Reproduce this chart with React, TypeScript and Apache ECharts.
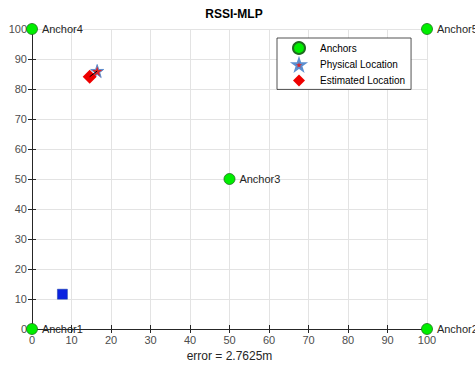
import React, { useEffect, useRef } from "react";
import * as echarts from "echarts";

const anchorNames = ["Anchor1", "Anchor2", "Anchor3", "Anchor4", "Anchor5"];
const anchorX = [0, 100, 50, 0, 100];
const anchorY = [0, 0, 50, 100, 100];
const physical = [16.5, 86];
const estimated = [14.6, 84.1];
const squarePoint = [7.7, 11.6];
const xTicks = [0, 100, 10];
const titleText = "RSSI-MLP";
const xName = "error = 2.7625m";

const STAR =
  "path://M50,0 L61.2,34.5 L97.6,34.5 L68.2,55.9 L79.4,90.5 L50,69.1 L20.6,90.5 L31.8,55.9 L2.4,34.5 L38.8,34.5 Z";

export default function App() {
  const ref = useRef<HTMLDivElement>(null);
  useEffect(() => {
    if (!ref.current) return;
    const chart = echarts.init(ref.current, undefined, { renderer: "svg" });
    const axisCommon = {
      type: "value" as const,
      min: xTicks[0],
      max: xTicks[1],
      interval: xTicks[2],
      axisLine: { show: true, lineStyle: { color: "#262626", width: 1 } },
      axisTick: { show: true, inside: true, length: 4, lineStyle: { color: "#262626" } },
      splitLine: { show: false },
    };
    const font = "Liberation Sans, Arial, sans-serif";
    chart.setOption({
      animation: false,
      backgroundColor: "#ffffff",
      title: {
        text: titleText,
        left: 229,
        textAlign: "center",
        top: 3,
        textStyle: { fontSize: 12, fontWeight: "bold", color: "#000", fontFamily: font },
      },
      grid: { left: 32, right: 48, top: 29, bottom: 37, containLabel: false },
      legend: {
        orient: "vertical",
        left: 277,
        top: 38,
        width: 139,
        padding: [3, 6, 3, 15],
        itemGap: 3,
        itemWidth: 12,
        itemHeight: 12,
        backgroundColor: "#fff",
        borderColor: "#262626",
        borderWidth: 0.8,
        textStyle: { fontSize: 10, color: "#000", fontFamily: font, padding: [0, 0, 0, 10] },
        data: ["Anchors", "Physical Location", "Estimated Location"],
      },
      xAxis: [
        {
          ...axisCommon,
          position: "bottom",
          name: xName,
          nameLocation: "middle",
          nameGap: 21,
          nameTextStyle: { fontSize: 12, color: "#262626", fontFamily: font },
          axisLabel: { fontSize: 11, color: "#4d4d4d", margin: 5, fontFamily: font },
          splitLine: { show: true, lineStyle: { color: "#e3e3e3", width: 1 } },
        },
        { ...axisCommon, position: "top", axisLabel: { show: false } },
      ],
      yAxis: [
        {
          ...axisCommon,
          position: "left",
          axisLabel: { fontSize: 11, color: "#4d4d4d", margin: 5, fontFamily: font },
          splitLine: { show: true, lineStyle: { color: "#e3e3e3", width: 1 } },
        },
        { ...axisCommon, position: "right", axisLabel: { show: false } },
      ],
      series: [
        {
          name: "Anchors",
          type: "scatter",
          clip: false,
          symbol: "circle",
          symbolSize: 11,
          itemStyle: { color: "#00ee00", borderColor: "#1f6b1f", borderWidth: 0.8, opacity: 1 },
          label: {
            show: true,
            position: "right",
            distance: 4,
            fontSize: 11,
            color: "#262626",
            fontFamily: font,
            formatter: (p: any) => anchorNames[p.dataIndex],
          },
          data: anchorX.map((x, i) => [x, anchorY[i]]),
          z: 5,
        },
        {
          name: "Estimated Location",
          type: "scatter",
          clip: false,
          symbol: "diamond",
          symbolSize: 14,
          itemStyle: { color: "#ee0000", opacity: 1 },
          data: [estimated],
          z: 3,
        },
        {
          name: "Physical Location",
          type: "scatter",
          clip: false,
          symbol: STAR,
          symbolSize: 13,
          itemStyle: { color: "#d9262b", borderColor: "#5b8fd0", borderWidth: 1, opacity: 1 },
          data: [physical],
          z: 2,
        },
        {
          name: "link",
          type: "line",
          symbol: "none",
          lineStyle: { color: "#000", width: 1 },
          data: [estimated, physical],
          z: 4,
        },
        {
          name: "square",
          type: "scatter",
          clip: false,
          symbol: "rect",
          symbolSize: 10,
          itemStyle: { color: "#0a22e0", borderColor: "#1a3fa0", borderWidth: 0.5, opacity: 1 },
          data: [squarePoint],
          z: 3,
        },
      ],
    });
    return () => chart.dispose();
  }, []);
  return (
    <div
      ref={ref}
      style={{ position: "absolute", left: 0, top: 0, width: 475, height: 367 }}
    />
  );
}
